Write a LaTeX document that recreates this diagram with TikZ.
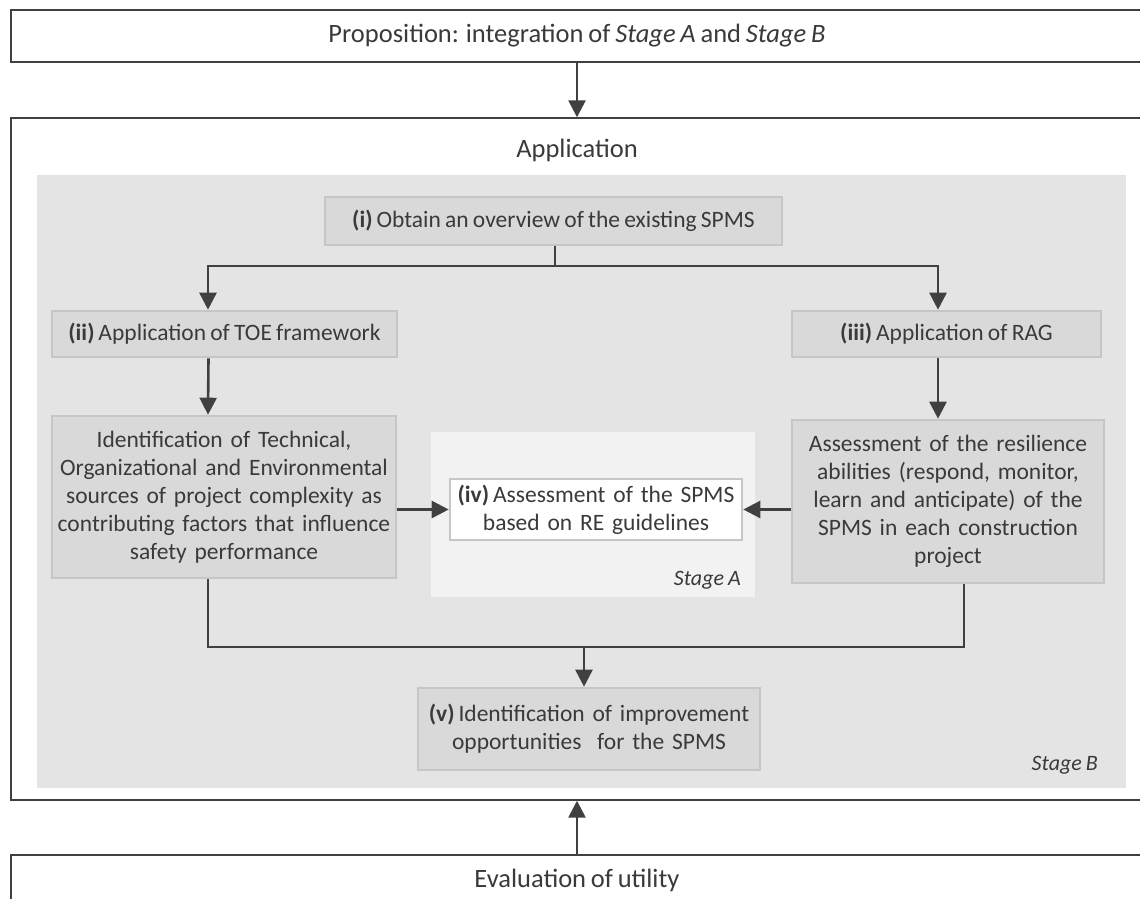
\documentclass[tikz,border=0pt]{standalone}
\usepackage{fontspec}
\setmainfont{Carlito}[WordSpace=0.8]
\usetikzlibrary{arrows.meta}
\definecolor{ink}{HTML}{404040}
\definecolor{txt}{HTML}{3A3A3A}
\definecolor{stageB}{HTML}{E4E4E4}
\definecolor{stageA}{HTML}{F2F2F2}
\definecolor{boxfill}{HTML}{D9D9D9}
\definecolor{boxline}{HTML}{C6C6C6}
\tikzset{
  outer/.style={draw=ink, line width=1.4pt, fill=white, inner sep=0pt},
  stepbox/.style={draw=boxline, line width=2.6pt, fill=boxfill, inner sep=0pt,
    text=txt, align=center, font=\fontsize{23.5}{28}\selectfont},
  whitebox/.style={stepbox, fill=white},
  conn/.style={draw=ink, line width=2.6pt},
  arr/.style={conn, -{Triangle[length=17pt, width=17pt]}},
  stagelbl/.style={text=txt, font=\fontsize{22}{26}\selectfont\itshape, anchor=east, inner sep=0pt},
  big/.style={text=txt, font=\fontsize{26.5}{30}\selectfont},
}
\begin{document}
\begin{tikzpicture}[x=1pt, y=-1pt]
\useasboundingbox (0,0) rectangle (1140,899);
\clip (0,0) rectangle (1140,899);

% outer frames
\node[outer, big, minimum width=1132pt, minimum height=52pt] (prop) at (577,36)
  {Proposition: integration of \textit{Stage A} and \textit{Stage B}};
\node[outer, minimum width=1132pt, minimum height=682pt] (app) at (577,459) {};
\node[big, inner sep=0pt] (applbl) at (577,150) {Application};
\node[outer, minimum width=1132pt, minimum height=60pt] (eval) at (577,885) {};
\node[big, inner sep=0pt] (evallbl) at (577,880) {Evaluation of utility};

% stage regions
\fill[stageB] (37,175) rectangle (1126,788);
\fill[stageA] (431,432) rectangle (755,597);
\node[stagelbl] (lblA) at (741,580) {Stage A};
\node[stagelbl] (lblB) at (1098,765) {Stage B};

% steps
\node[stepbox, minimum width=457pt, minimum height=48pt] (s1) at (553.5,221)
  {\textbf{(i)}\,Obtain an overview of the existing SPMS};
\node[stepbox, minimum width=345pt, minimum height=46pt] (s2) at (224.5,334)
  {\textbf{(ii)}\,Application of TOE framework};
\node[stepbox, minimum width=309pt, minimum height=46pt] (s3) at (946.5,334)
  {\textbf{(iii)}\,Application of RAG};
\node[stepbox, minimum width=344pt, minimum height=162pt, text width=340pt] (toe) at (224,497)
  {Identification of Technical,\\Organizational and Environmental\\sources of project complexity as\\contributing factors that influence\\safety performance};
\node[stepbox, minimum width=312pt, minimum height=163pt, text width=305pt] (rag) at (948,501.5)
  {Assessment of the resilience\\abilities (respond, monitor,\\learn and anticipate) of the\\SPMS in each construction\\project};
\node[whitebox, minimum width=292pt, minimum height=61pt, text width=288pt] (s4) at (596,509.5)
  {\textbf{(iv)}\,Assessment of the SPMS\\based on RE guidelines};
\node[stepbox, minimum width=342pt, minimum height=82pt, text width=336pt] (s5) at (589,729)
  {\textbf{(v)}\,Identification of improvement\\opportunities\ \ for the SPMS};

% junctions
\coordinate (jt) at (555,266);
\coordinate (jb) at (584,647);

% connectors
\draw[arr] (prop.south) -- (app.north);
\draw[arr] (eval.north -| app.south) -- (app.south);
\draw[arr] (s1.south -| jt) -- (jt) -| ([xshift=-16.5pt]s2.north);
\draw[arr] (jt) -| ([xshift=-8.5pt]s3.north);
\draw[arr] ([xshift=-16pt]s2.south) -- ([xshift=-16pt]toe.north);
\draw[arr] ([xshift=-8.5pt]s3.south) -- ([xshift=-10pt]rag.north);
\draw[arr] (toe.east |- s4) -- (s4.west);
\draw[arr] (rag.west |- s4) -- (s4.east);
\draw[conn] ([xshift=-16pt]toe.south) |- (jb);
\draw[conn] ([xshift=16pt]rag.south) |- (jb);
\draw[arr] (jb) -- (s5.north -| jb);
\end{tikzpicture}
\end{document}
